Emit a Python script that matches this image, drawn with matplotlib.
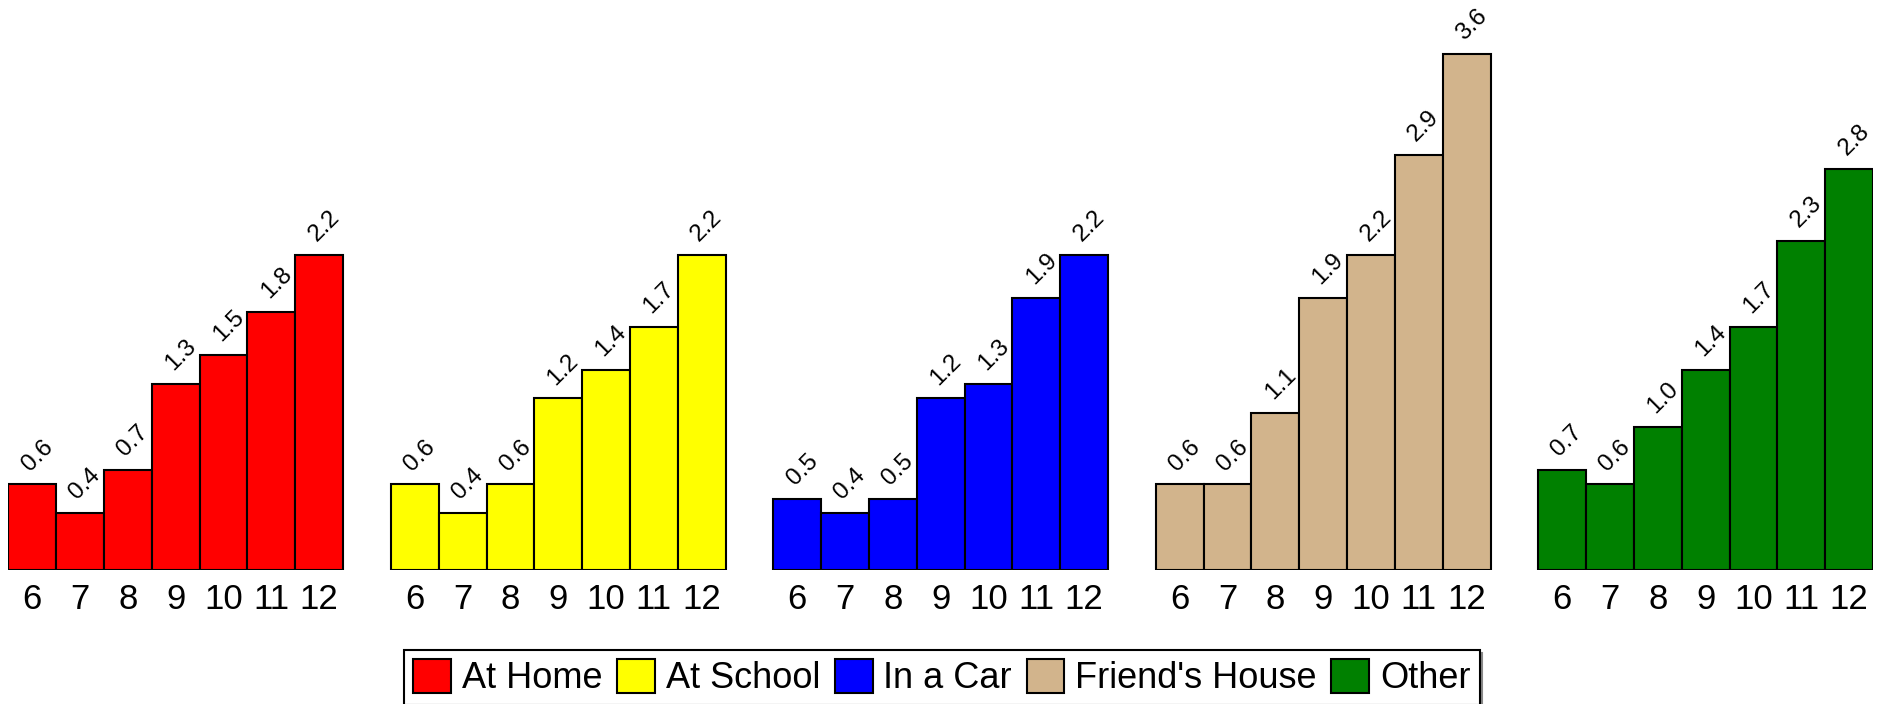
import matplotlib
matplotlib.use('Agg')
import matplotlib.pyplot as plt
import numpy as np
from matplotlib.patches import Patch

plt.rcParams['font.family'] = ['Liberation Sans', 'DejaVu Sans']

# ── data ──
ages = ['6', '7', '8', '9', '10', '11', '12']
places = ['At Home', 'At School', 'In a Car', "Friend's House", 'Other']
at_home = [0.6, 0.4, 0.7, 1.3, 1.5, 1.8, 2.2]
at_school = [0.6, 0.4, 0.6, 1.2, 1.4, 1.7, 2.2]
in_car = [0.5, 0.4, 0.5, 1.2, 1.3, 1.9, 2.2]
friends_house = [0.6, 0.6, 1.1, 1.9, 2.2, 2.9, 3.6]
other = [0.7, 0.6, 1.0, 1.4, 1.7, 2.3, 2.8]
series = [at_home, at_school, in_car, friends_house, other]
colors = ['#FF0000', '#FFFF00', '#0000FF', '#D2B48C', '#008000']

W, H = 1887, 704
fig = plt.figure(figsize=(W / 100, H / 100), dpi=100)
ax = fig.add_axes([8.4 / W, 133.6 / H, (1873 - 8.4) / W, 570.4 / H])

pitch = len(ages) + 1
xticks, xlabels = [], []
for g, (vals, col) in enumerate(zip(series, colors)):
    x = g * pitch + np.arange(len(ages))
    ax.bar(x, vals, width=1.0, color=col, edgecolor='black', linewidth=1.5)
    for xi, v in zip(x, vals):
        ax.annotate(f'{v:.1f}', (xi, v), xytext=(5, 29),
                    textcoords='offset pixels', rotation=45,
                    ha='center', va='center', fontsize=17.5)
    xticks.extend(x)
    xlabels.extend(ages)

ax.set_xlim(-0.5, (len(series) - 1) * pitch + len(ages) - 0.5)
ax.set_ylim(0, 3.978)
ax.set_xticks(xticks)
ax.set_xticklabels(xlabels, fontsize=25)
ax.tick_params(axis='x', length=0, pad=9)
ax.set_yticks([])
for s in ax.spines.values():
    s.set_visible(False)

handles = [Patch(facecolor=c, edgecolor='black', linewidth=1.5, label=p)
           for c, p in zip(colors, places)]
leg = fig.legend(handles=handles, loc='lower center', bbox_to_anchor=(0.4992, -0.002),
                 ncol=5, frameon=True, fancybox=False, edgecolor='black',
                 shadow={'color': '#888888', 'alpha': 1.0},
                 fontsize=26, handlelength=1.05, handleheight=1.05,
                 handletextpad=0.3, columnspacing=0.4,
                 borderpad=0.25, borderaxespad=0.0)
leg.get_frame().set_linewidth(1.5)

fig.savefig('out.png', dpi=100)
